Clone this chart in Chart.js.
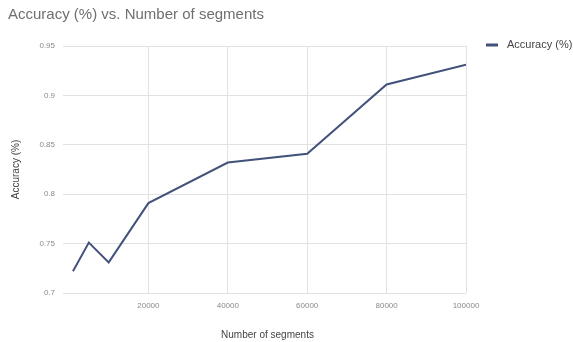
<!DOCTYPE html>
<html>
<head>
<meta charset="utf-8">
<script src="https://cdn.jsdelivr.net/npm/chart.js@4"></script>
<style>
  html, body { margin: 0; padding: 0; background: #ffffff; overflow: hidden; }
  #wrap { width: 573px; height: 342px; position: relative; }
</style>
</head>
<body>
<div id="wrap"><canvas id="chart"></canvas></div>
<script>
// Number of segments used for each run
const segments = [1000, 5000, 10000, 20000, 40000, 60000, 80000, 100000];
// Accuracy measured for each run
const accuracy = [0.722, 0.751, 0.731, 0.791, 0.832, 0.841, 0.911, 0.931];
// Axis tick values
const xTicks = [20000, 40000, 60000, 80000, 100000];
const yTicks = [0.7, 0.75, 0.8, 0.85, 0.9, 0.95];

const seriesLabel = 'Accuracy (%)';
const lineColor = '#42527a';
const FONT = '"Liberation Sans", Arial, sans-serif';

// Legend drawn in the right margin as a short line marker plus label
const sideLegend = {
  id: 'sideLegend',
  afterDraw(chart) {
    const ctx = chart.ctx;
    const ds = chart.data.datasets[0];
    const y = chart.chartArea.top - 1;
    ctx.save();
    ctx.fillStyle = ds.borderColor;
    ctx.fillRect(486, y - 1.5, 12, 3);
    ctx.font = '11px ' + FONT;
    ctx.fillStyle = '#444444';
    ctx.textBaseline = 'middle';
    ctx.textAlign = 'left';
    ctx.fillText(ds.label, 507, y);
    ctx.restore();
  }
};

new Chart(document.getElementById('chart'), {
  type: 'line',
  data: {
    datasets: [{
      label: seriesLabel,
      data: segments.map((s, i) => ({ x: s, y: accuracy[i] })),
      borderColor: lineColor,
      backgroundColor: lineColor,
      borderWidth: 2,
      pointRadius: 0,
      tension: 0
    }]
  },
  options: {
    responsive: true,
    maintainAspectRatio: false,
    animation: false,
    layout: { padding: { left: 8, right: 107, top: 0, bottom: 0 } },
    plugins: {
      legend: { display: false },
      tooltip: { enabled: false },
      title: {
        display: true,
        text: 'Accuracy (%) vs. Number of segments',
        align: 'start',
        color: '#6f6f6f',
        font: { family: FONT, size: 15, weight: 'normal', lineHeight: 1.2 },
        padding: { top: 6, bottom: 22 }
      }
    },
    scales: {
      x: {
        type: 'linear',
        min: 0,
        max: 100000,
        afterBuildTicks(scale) { scale.ticks = xTicks.map(v => ({ value: v })); },
        afterFit(scale) { scale.height = 49; },
        grid: { color: '#e2e2e2', drawTicks: false, lineWidth: 1 },
        border: { display: false },
        ticks: {
          color: '#8a8a8a',
          font: { family: FONT, size: 8 },
          padding: 8,
          maxRotation: 0,
          callback: v => String(v)
        },
        title: {
          display: true,
          text: 'Number of segments',
          color: '#444444',
          font: { family: FONT, size: 10 },
          padding: { top: 0, bottom: 1 }
        }
      },
      y: {
        min: 0.7,
        max: 0.95,
        afterBuildTicks(scale) { scale.ticks = yTicks.map(v => ({ value: v })); },
        afterFit(scale) { scale.width = 61; },
        grid: { color: '#e2e2e2', drawTicks: true, tickLength: 6, tickColor: '#e2e2e2' },
        border: { display: false },
        ticks: {
          color: '#8a8a8a',
          font: { family: FONT, size: 8 },
          padding: 8,
          callback: v => String(Math.round(v * 100) / 100)
        },
        title: {
          display: true,
          text: 'Accuracy (%)',
          color: '#444444',
          font: { family: FONT, size: 10 },
          padding: { top: 2, bottom: 0 }
        }
      }
    }
  },
  plugins: [sideLegend]
});
</script>
</body>
</html>
